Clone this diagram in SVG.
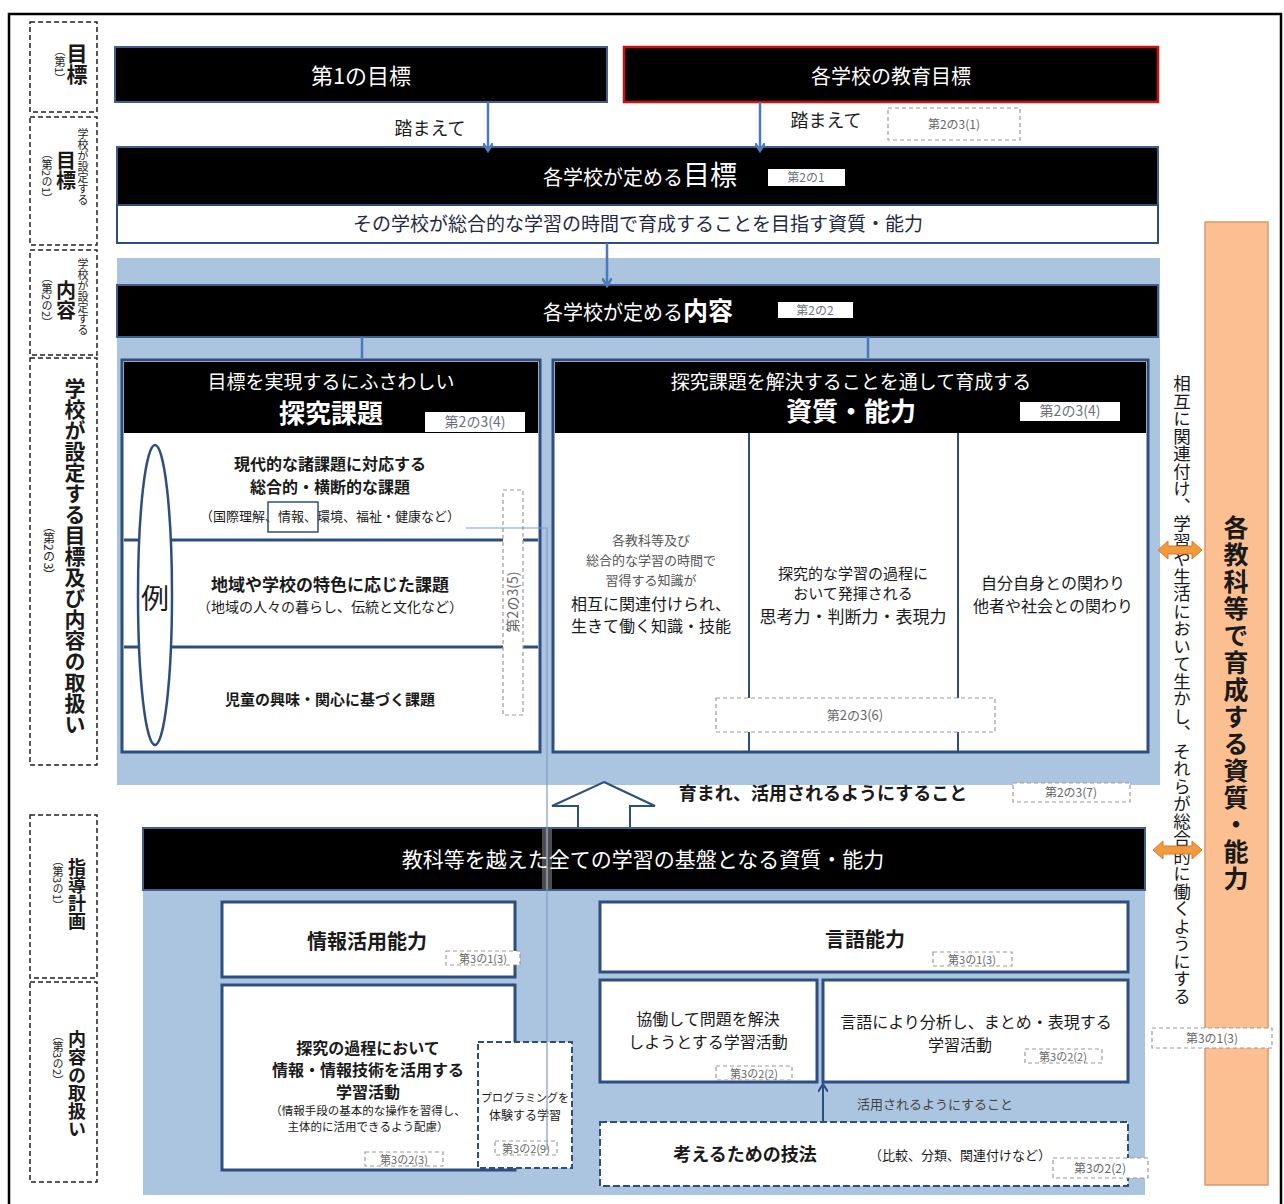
<svg xmlns="http://www.w3.org/2000/svg" width="1284" height="1204" viewBox="0 0 1284 1204">
<style>
text{font-family:"Noto Sans CJK JP","Noto Sans",sans-serif;}
.blk{fill:#000;stroke:#3f5f8c;stroke-width:2}
.wt{fill:#fff}
.wbox{fill:#fff;stroke:#2e4f7d;stroke-width:3}
.lbl{fill:none;stroke:#222;stroke-width:1.5;stroke-dasharray:5,3}
.ref{fill:#fff;stroke:#9a9a9a;stroke-width:1.2;stroke-dasharray:4,3}
.reft{fill:#666}
.tag{fill:#fff}
.tagt{fill:#6a7080}
.vt{writing-mode:vertical-rl}
.dk{fill:#1a1a1a}
.conn{stroke:#4a7ab8;stroke-width:2.5;fill:none}
</style>
<defs>
<marker id="ah" markerWidth="10" markerHeight="10" refX="7" refY="5" orient="auto" markerUnits="userSpaceOnUse">
<path d="M0,0 L8,5 L0,10" fill="none" stroke="#4a7ab8" stroke-width="2.5"/>
</marker>
<marker id="ahk" markerWidth="10" markerHeight="10" refX="7" refY="5" orient="auto" markerUnits="userSpaceOnUse">
<path d="M0,0 L8,5 L0,10" fill="none" stroke="#2e4f7d" stroke-width="2"/>
</marker>
</defs>
<rect x="0" y="0" width="1284" height="1204" fill="#fff"/>
<rect x="9" y="14" width="1272" height="1200" fill="none" stroke="#000" stroke-width="2.5"/>

<!-- left labels -->
<g id="lab1"><rect class="lbl" x="30" y="22" width="67" height="90"/>
<text class="vt dk" x="77" y="43" font-size="21" font-weight="bold">目標</text>
<text class="vt dk" x="60" y="45" font-size="11">（第1）</text></g>
<g id="lab2"><rect class="lbl" x="30" y="117" width="67" height="128"/>
<text class="vt dk" x="83" y="128" font-size="11">学校が設定する</text>
<text class="vt dk" x="66" y="150" font-size="20" font-weight="bold">目標</text>
<text class="vt dk" x="47" y="148" font-size="11">（第2の1）</text></g>
<g id="lab3"><rect class="lbl" x="30" y="250" width="67" height="105"/>
<text class="vt dk" x="83" y="258" font-size="11">学校が設定する</text>
<text class="vt dk" x="66" y="280" font-size="20" font-weight="bold">内容</text>
<text class="vt dk" x="47" y="272" font-size="11">（第2の2）</text></g>
<g id="lab4"><rect class="lbl" x="30" y="358" width="67" height="407"/>
<text class="vt dk" x="75" y="378" font-size="21" font-weight="bold">学校が設定する目標及び内容の取扱い</text>
<text class="vt dk" x="49" y="520" font-size="12">（第2の3）</text></g>
<g id="lab5"><rect class="lbl" x="30" y="815" width="67" height="163"/>
<text class="vt dk" x="77" y="858" font-size="18" font-weight="bold">指導計画</text>
<text class="vt dk" x="58" y="855" font-size="11">（第3の1）</text></g>
<g id="lab6"><rect class="lbl" x="30" y="982" width="67" height="200"/>
<text class="vt dk" x="77" y="1030" font-size="18" font-weight="bold">内容の取扱い</text>
<text class="vt dk" x="58" y="1030" font-size="11">（第3の2）</text></g>

<!-- panels -->
<rect x="117" y="258" width="1043" height="527" fill="#abc4e0"/>
<rect x="143" y="890" width="1002" height="305" fill="#abc4e0"/>

<g id="goal1"><rect class="blk" x="115" y="47" width="492" height="55"/>
<text class="wt" x="361" y="84" font-size="22" text-anchor="middle">第1の目標</text></g>
<g id="schoolgoal"><rect x="624" y="47" width="534" height="55" fill="#000" stroke="#d01010" stroke-width="2.5"/>
<text class="wt" x="891" y="84" font-size="20" text-anchor="middle">各学校の教育目標</text></g>

<g id="goal2"><rect class="blk" x="117" y="147" width="1041" height="58"/>
<text class="wt" x="640" y="185" text-anchor="middle"><tspan font-size="20">各学校が定める</tspan><tspan font-size="27">目標</tspan></text>
<rect class="tag" x="768" y="169" width="77" height="17"/>
<text class="tagt" x="806" y="182" font-size="12" text-anchor="middle">第2の1</text>
<rect x="117" y="205" width="1041" height="38" fill="#fff" stroke="#2e4f7d" stroke-width="2"/>
<text x="638" y="231" font-size="19" text-anchor="middle" fill="#1f2a44">その学校が総合的な学習の時間で育成することを目指す資質・能力</text></g>

<g id="content"><rect class="blk" x="117" y="285" width="1041" height="52"/>
<text class="wt" x="638" y="320" text-anchor="middle"><tspan font-size="20">各学校が定める</tspan><tspan font-size="25" font-weight="bold">内容</tspan></text>
<rect class="tag" x="778" y="302" width="75" height="16"/>
<text class="tagt" x="815" y="315" font-size="12" text-anchor="middle">第2の2</text></g>

<!-- 探究課題 -->
<g id="tankyu">
<rect class="wbox" x="122" y="360" width="418" height="392"/>
<rect x="124" y="362" width="414" height="71" fill="#000"/>
<text class="wt" x="331" y="389" font-size="19" text-anchor="middle">目標を実現するにふさわしい</text>
<text class="wt" x="331" y="423" font-size="26" font-weight="bold" text-anchor="middle">探究課題</text>
<rect class="tag" x="425" y="412" width="100" height="20"/>
<text class="tagt" x="475" y="427" font-size="14" text-anchor="middle">第2の3(4)</text>
<line x1="124" y1="540" x2="538" y2="540" stroke="#2e4f7d" stroke-width="3"/>
<line x1="124" y1="647" x2="538" y2="647" stroke="#2e4f7d" stroke-width="3"/>
<ellipse cx="155" cy="595" rx="17" ry="150" fill="#fff" stroke="#2e4f7d" stroke-width="2.5"/>
<text class="dk" x="155" y="609" font-size="28" text-anchor="middle">例</text>
<text class="dk" x="330" y="470" font-size="16" font-weight="bold" text-anchor="middle">現代的な諸課題に対応する</text>
<text class="dk" x="330" y="493" font-size="16" font-weight="bold" text-anchor="middle">総合的・横断的な課題</text>
<text class="dk" x="330" y="521" font-size="13" text-anchor="middle">（国際理解、情報、環境、福祉・健康など）</text>
<rect x="268" y="502" width="50" height="30" fill="none" stroke="#2e4f7d" stroke-width="1.5"/>
<text class="dk" x="330" y="591" font-size="17" font-weight="bold" text-anchor="middle">地域や学校の特色に応じた課題</text>
<text class="dk" x="330" y="612" font-size="14" text-anchor="middle">（地域の人々の暮らし、伝統と文化など）</text>
<text class="dk" x="330" y="705" font-size="15" font-weight="bold" text-anchor="middle">児童の興味・関心に基づく課題</text>
<rect x="503" y="490" width="20" height="225" fill="#fff" stroke="#9a9a9a" stroke-width="1.2" stroke-dasharray="4,3"/>
<text class="reft" transform="translate(518,602) rotate(-90)" font-size="14" text-anchor="middle">第2の3(5)</text>
</g>

<!-- 資質・能力 -->
<g id="shishitsu">
<rect class="wbox" x="553" y="360" width="595" height="392"/>
<rect x="555" y="362" width="591" height="71" fill="#000"/>
<text class="wt" x="851" y="389" font-size="19" text-anchor="middle">探究課題を解決することを通して育成する</text>
<text class="wt" x="851" y="421" font-size="26" font-weight="bold" text-anchor="middle">資質・能力</text>
<rect class="tag" x="1020" y="402" width="100" height="19"/>
<text class="tagt" x="1070" y="416" font-size="14" text-anchor="middle">第2の3(4)</text>
<line x1="749" y1="433" x2="749" y2="752" stroke="#2e4f7d" stroke-width="2"/>
<line x1="958" y1="433" x2="958" y2="752" stroke="#2e4f7d" stroke-width="2"/>
<text x="651" y="545" font-size="13" fill="#555" text-anchor="middle">各教科等及び</text>
<text x="651" y="565" font-size="13" fill="#555" text-anchor="middle">総合的な学習の時間で</text>
<text x="651" y="585" font-size="13" fill="#555" text-anchor="middle">習得する知識が</text>
<text class="dk" x="651" y="610" font-size="16" text-anchor="middle">相互に関連付けられ、</text>
<text class="dk" x="651" y="632" font-size="16" text-anchor="middle">生きて働く知識・技能</text>
<text class="dk" x="853" y="579" font-size="15" text-anchor="middle">探究的な学習の過程に</text>
<text class="dk" x="853" y="599" font-size="15" text-anchor="middle">おいて発揮される</text>
<text class="dk" x="853" y="623" font-size="17" text-anchor="middle">思考力・判断力・表現力</text>
<text class="dk" x="1053" y="589" font-size="16" text-anchor="middle">自分自身との関わり</text>
<text class="dk" x="1053" y="612" font-size="16" text-anchor="middle">他者や社会との関わり</text>
<rect class="ref" x="716" y="698" width="279" height="34" fill="none"/>
<text class="reft" x="855" y="720" font-size="13" text-anchor="middle">第2の3(6)</text>
</g>

<!-- 育まれ -->
<g id="ikumare">
<polygon points="604,782 655,806 630,806 630,828 578,828 578,806 552,806" fill="#fff" stroke="#2e4f7d" stroke-width="2"/>
<text class="dk" x="823" y="800" font-size="18" font-weight="bold" text-anchor="middle">育まれ、活用されるようにすること</text>
<rect class="ref" x="1013" y="783" width="117" height="19"/>
<text class="reft" x="1071" y="797" font-size="12" text-anchor="middle">第2の3(7)</text>
</g>

<g id="kiban"><rect class="blk" x="143" y="828" width="1002" height="62"/>
<text class="wt" x="643" y="867" font-size="21" text-anchor="middle">教科等を越えた全ての学習の基盤となる資質・能力</text></g>

<g id="johokatsuyo"><rect class="wbox" x="222" y="902" width="293" height="75"/>
<text class="dk" x="367" y="949" font-size="20" font-weight="bold" text-anchor="middle">情報活用能力</text>
<rect class="ref" x="446" y="951" width="74" height="14"/>
<text class="reft" x="483" y="963" font-size="11" text-anchor="middle">第3の1(3)</text></g>

<g id="gengo"><rect class="wbox" x="600" y="902" width="528" height="70"/>
<text class="dk" x="865" y="947" font-size="20" font-weight="bold" text-anchor="middle">言語能力</text>
<rect class="ref" x="933" y="952" width="79" height="14"/>
<text class="reft" x="972" y="964" font-size="11" text-anchor="middle">第3の1(3)</text></g>

<g id="tankyukatei"><rect class="wbox" x="222" y="985" width="293" height="185"/>
<text class="dk" x="368" y="1054" font-size="16" font-weight="bold" text-anchor="middle">探究の過程において</text>
<text class="dk" x="368" y="1076" font-size="16" font-weight="bold" text-anchor="middle">情報・情報技術を活用する</text>
<text class="dk" x="368" y="1098" font-size="16" font-weight="bold" text-anchor="middle">学習活動</text>
<text class="dk" x="368" y="1115" font-size="11.5" text-anchor="middle">（情報手段の基本的な操作を習得し、</text>
<text class="dk" x="368" y="1131" font-size="11.5" text-anchor="middle">主体的に活用できるよう配慮）</text>
<rect class="ref" x="365" y="1152" width="78" height="14"/>
<text class="reft" x="404" y="1164" font-size="11" text-anchor="middle">第3の2(3)</text></g>

<g id="programming"><rect x="478" y="1042" width="94" height="126" fill="#fff" stroke="#2e4f7d" stroke-width="2" stroke-dasharray="6,3"/>
<text class="dk" x="525" y="1102" font-size="11" text-anchor="middle">プログラミングを</text>
<text class="dk" x="525" y="1120" font-size="12" text-anchor="middle">体験する学習</text>
<rect class="ref" x="495" y="1141" width="62" height="14"/>
<text class="reft" x="526" y="1153" font-size="11" text-anchor="middle">第3の2(9)</text></g>

<g id="kyodo"><rect class="wbox" x="600" y="980" width="217" height="102"/>
<text class="dk" x="708" y="1025" font-size="16" text-anchor="middle">協働して問題を解決</text>
<text class="dk" x="708" y="1048" font-size="16" text-anchor="middle">しようとする学習活動</text>
<rect class="ref" x="716" y="1066" width="76" height="14"/>
<text class="reft" x="754" y="1078" font-size="11" text-anchor="middle">第3の2(2)</text></g>

<g id="bunseki"><rect class="wbox" x="823" y="980" width="305" height="102"/>
<text class="dk" x="976" y="1028" font-size="16" text-anchor="middle">言語により分析し、まとめ・表現する</text>
<text class="dk" x="960" y="1051" font-size="16" text-anchor="middle">学習活動</text>
<rect class="ref" x="1025" y="1049" width="77" height="14"/>
<text class="reft" x="1063" y="1061" font-size="11" text-anchor="middle">第3の2(2)</text></g>

<g id="gihou"><rect x="600" y="1122" width="528" height="64" fill="#fff" stroke="#2e4f7d" stroke-width="2" stroke-dasharray="7,3"/>
<text class="dk" x="745" y="1161" font-size="18" font-weight="bold" text-anchor="middle">考えるための技法</text>
<text class="dk" x="960" y="1160" font-size="13" text-anchor="middle">（比較、分類、関連付けなど）</text>
<rect class="ref" x="1053" y="1158" width="95" height="20"/>
<text class="reft" x="1100" y="1173" font-size="12" text-anchor="middle">第3の2(2)</text></g>
<text x="935" y="1109" font-size="13" fill="#444" text-anchor="middle">活用されるようにすること</text>

<!-- orange column -->
<g id="kakukyouka"><rect x="1205" y="222" width="63" height="963" fill="#fbbf91" stroke="#d49a68" stroke-width="1.5"/>
<text class="vt dk" x="1236" y="515" font-size="25" font-weight="bold" letter-spacing="2">各教科等で育成する資質・能力</text></g>
<text class="vt dk" x="1182" y="375" font-size="17.5">相互に関連付け、学習や生活において生かし、それらが総合的に働くようにする</text>
<g id="ref313"><rect class="ref" x="1152" y="1028" width="120" height="20" fill="none"/>
<text class="reft" x="1212" y="1043" font-size="12" text-anchor="middle">第3の1(3)</text></g>

<g id="connectors">
<line class="conn" x1="488" y1="102" x2="488" y2="150" marker-end="url(#ah)"/>
<text class="dk" x="430" y="135" font-size="18" text-anchor="middle">踏まえて</text>
<line class="conn" x1="760" y1="102" x2="760" y2="150" marker-end="url(#ah)"/>
<text class="dk" x="826" y="127" font-size="18" text-anchor="middle">踏まえて</text>
<rect class="ref" x="888" y="108" width="132" height="32"/>
<text class="reft" x="954" y="129" font-size="12" text-anchor="middle">第2の3(1)</text>
<line class="conn" x1="607" y1="243" x2="607" y2="285" marker-end="url(#ah)"/>
<line class="conn" x1="362" y1="337" x2="362" y2="358"/>
<line class="conn" x1="868" y1="337" x2="868" y2="358"/>
<line x1="823" y1="1122" x2="823" y2="1085" stroke="#2e4f7d" stroke-width="2" marker-end="url(#ahk)"/>
<polyline points="466,528 547,528 547,1150" fill="none" stroke="#7f9cc4" stroke-width="1.2"/>
<rect x="542" y="829" width="10" height="60" fill="#fff" opacity="0.3"/>
<polygon points="1158,550 1168,541 1168,546 1192,546 1192,541 1202,550 1192,559 1192,554 1168,554 1168,559" fill="#f39a3e" stroke="#d97a20" stroke-width="1"/>
<polygon points="1153,850 1163,841 1163,846 1192,846 1192,841 1202,850 1192,859 1192,854 1163,854 1163,859" fill="#f39a3e" stroke="#d97a20" stroke-width="1"/>
</g>
</svg>
